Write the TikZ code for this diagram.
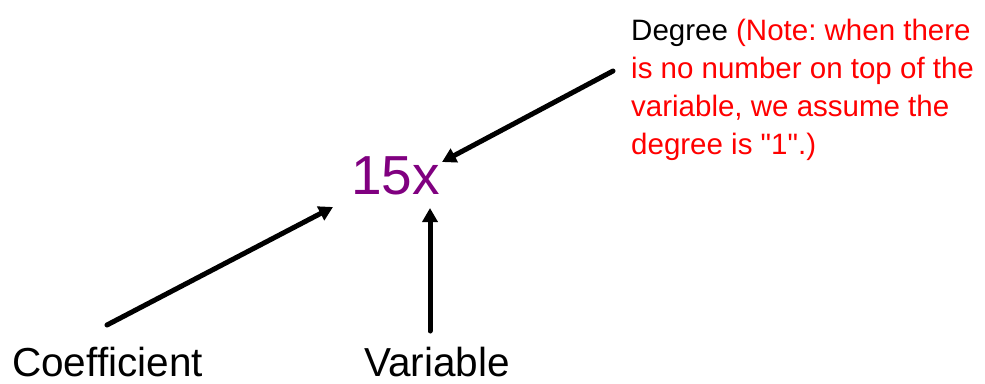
\documentclass[tikz,border=0pt]{standalone}
\usepackage{xcolor}
\usepackage{fontspec}
\setmainfont{Liberation Sans}[Ligatures=TeXOff]
\usepackage{tikz}
\usetikzlibrary{arrows.meta, positioning}
\definecolor{termpurple}{HTML}{800080}
\definecolor{notered}{HTML}{FF0000}
\frenchspacing

\begin{document}
\begin{tikzpicture}[
    x=1pt, y=-1pt,
    label/.style={inner sep=0pt, anchor=base west, font=\fontsize{40.5pt}{48pt}\selectfont},
    term/.style={inner sep=0pt, anchor=base west, text=termpurple, font=\fontsize{55pt}{66pt}\selectfont},
    note/.style={inner sep=0pt, anchor=north west, align=left, font=\fontsize{29.5pt}{38pt}\selectfont},
    arrow/.style={-{Triangle[length=14pt, width=15pt]}, line width=5pt, line cap=round},
]
\useasboundingbox (0,0) rectangle (985,383);
% Term
\node[term] (term) at (351,194) {15x};
% Labels
\node[label] (coef) at (12,376) {Coefficient};
\node[label] (var) at (364,376) {Variable};
\node[note] (deg) at (631,19) {Degree {\color{notered}(Note: when there}\\
    \color{notered}is no number on top of the\\
    \color{notered}variable, we assume the\\
    \color{notered}degree is "1".)};
% Arrow ends
\coordinate (coefTail) at (107,325);
\coordinate (coefTip) at (333,207);
\coordinate (varTail) at (430,331);
\coordinate (varTip) at (430,208);
\coordinate (degTail) at (613,71);
\coordinate (degTip) at (442,162);
\draw[arrow] (coefTail) -- (coefTip);
\draw[arrow] (varTail) -- (varTip);
\draw[arrow] (degTail) -- (degTip);
\end{tikzpicture}
\end{document}
